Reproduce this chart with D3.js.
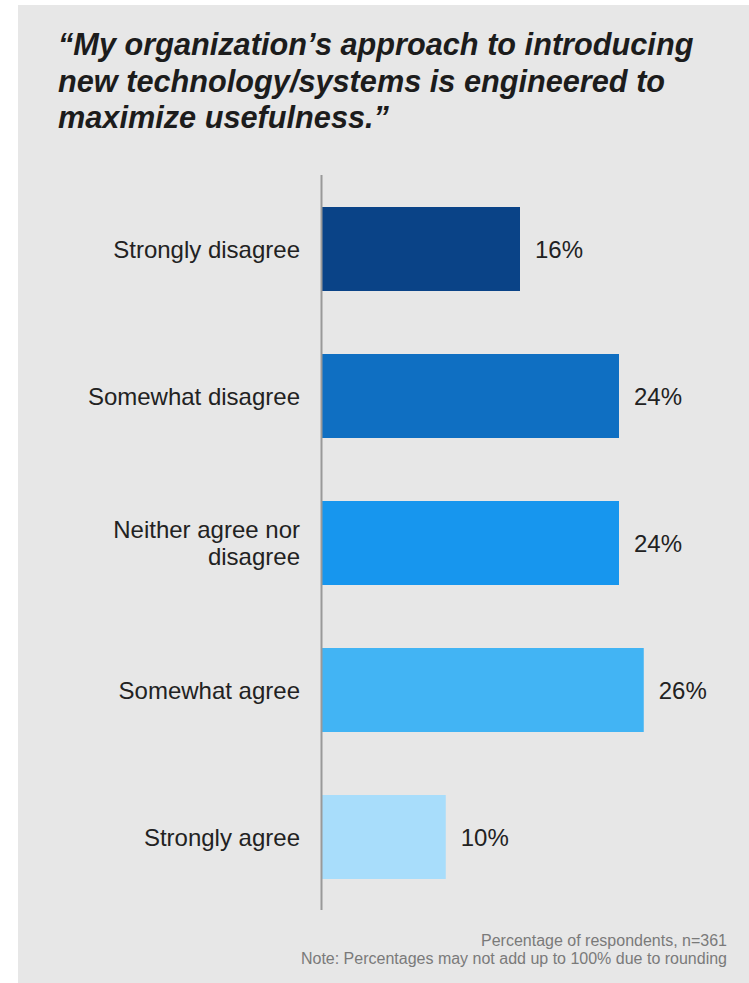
<!DOCTYPE html>
<html>
<head>
<meta charset="utf-8">
<script src="https://cdn.jsdelivr.net/npm/d3@7"></script>
<style>
  html, body { margin: 0; padding: 0; background: #ffffff; }
  svg { display: block; font-family: "Liberation Sans", Arial, Helvetica, sans-serif; }
</style>
</head>
<body>
<svg id="chart" width="749" height="983"></svg>
<script>
// Survey responses
const categories = [
  ["Strongly disagree"],
  ["Somewhat disagree"],
  ["Neither agree nor", "disagree"],
  ["Somewhat agree"],
  ["Strongly agree"]
];
const values = [16, 24, 24, 26, 10];
const barColors = ["#0a4387", "#0f6fc2", "#1796ee", "#42b4f4", "#a8ddfb"];
const titleLines = [
  "\u201CMy organization\u2019s approach to introducing",
  "new technology/systems is engineered to",
  "maximize usefulness.\u201D"
];
const footnotes = [
  "Percentage of respondents, n=361",
  "Note: Percentages may not add up to 100% due to rounding"
];

const svg = d3.select("#chart");

// panel background
svg.append("rect")
  .attr("x", 18).attr("y", 5)
  .attr("width", 749 - 18).attr("height", 983 - 5)
  .attr("fill", "#e7e7e7");

// title
svg.append("g").selectAll("text")
  .data(titleLines)
  .join("text")
  .attr("x", 58)
  .attr("y", (d, i) => 55 + i * 36.5)
  .attr("font-size", 30.7)
  .attr("font-weight", "bold")
  .attr("font-style", "italic")
  .attr("fill", "#1c1c1c")
  .text(d => d);

// scales
const x0 = 322;
const x = d3.scaleLinear().domain([0, 16]).range([x0, 520]);
const y = d3.scaleBand()
  .domain(d3.range(categories.length))
  .range([175.5, 910.5])
  .paddingInner(0.4286)
  .paddingOuter(0.2143);

// bars
svg.append("g").selectAll("rect")
  .data(values)
  .join("rect")
  .attr("x", x0)
  .attr("y", (d, i) => y(i))
  .attr("width", d => x(d) - x0)
  .attr("height", y.bandwidth())
  .attr("fill", (d, i) => barColors[i]);

// value labels
svg.append("g").selectAll("text")
  .data(values)
  .join("text")
  .attr("x", d => x(d) + 15)
  .attr("y", (d, i) => y(i) + y.bandwidth() / 2 + 8.5)
  .attr("font-size", 24)
  .attr("fill", "#222222")
  .text(d => d + "%");

// category labels
const catG = svg.append("g");
categories.forEach((lines, i) => {
  const cy = y(i) + y.bandwidth() / 2;
  const lh = 27;
  const first = cy + 8.5 - (lines.length - 1) * lh / 2;
  const t = catG.append("text")
    .attr("text-anchor", "end")
    .attr("font-size", 24)
    .attr("fill", "#222222");
  lines.forEach((ln, j) => {
    t.append("tspan").attr("x", 300).attr("y", first + j * lh).text(ln);
  });
});

// vertical axis line
svg.append("line")
  .attr("x1", x0 - 0.5).attr("x2", x0 - 0.5)
  .attr("y1", 175).attr("y2", 910)
  .attr("stroke", "#999999")
  .attr("stroke-width", 2);

// footnotes
svg.append("g").selectAll("text")
  .data(footnotes)
  .join("text")
  .attr("x", 727)
  .attr("y", (d, i) => 946 + i * 18)
  .attr("text-anchor", "end")
  .attr("font-size", 16)
  .attr("fill", "#7a7a7a")
  .text(d => d);
</script>
</body>
</html>
